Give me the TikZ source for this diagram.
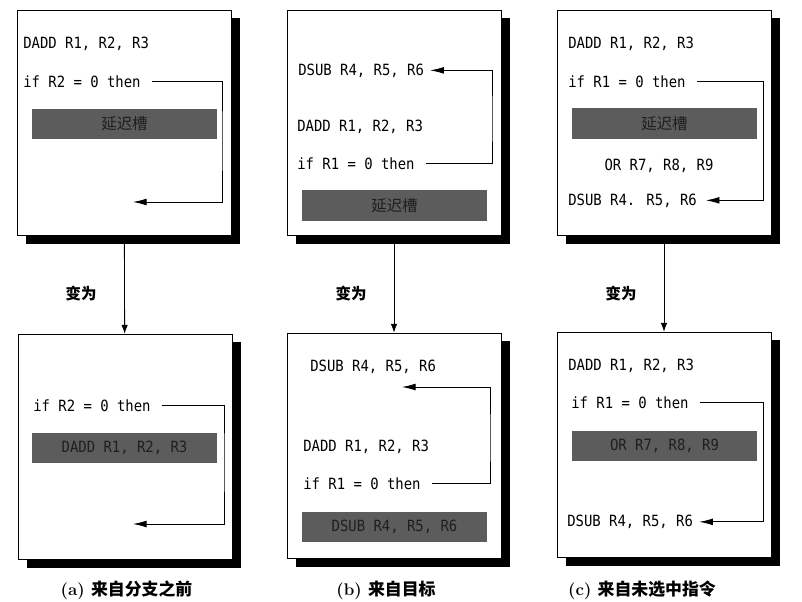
\documentclass[tikz,border=0pt]{standalone}
\usepackage{fontspec}
\usepackage{tikz}
\usetikzlibrary{arrows.meta, shadows}
\newfontfamily\codefont[FakeStretch=0.9]{DejaVu Sans Mono}
\newfontfamily\cjk{Noto Sans CJK SC}

\begin{document}
\begin{tikzpicture}[
			x=0.025cm, y=-0.025cm,
			every node/.style={inner sep=0pt},
			panel/.style={
				rectangle, draw, line width=0.6pt, fill=white,
				minimum width=5.35cm, minimum height=5.64cm,
				drop shadow={shadow xshift=0.23cm, shadow yshift=-0.2cm, fill=black, opacity=1}
			},
			code/.style={
				font=\codefont\fontsize{11}{13}\selectfont, anchor=base west
			},
			slot/.style={
				rectangle, fill=black!64, text=black!88,
				minimum width=4.625cm, minimum height=0.76cm,
				font=\codefont\fontsize{11}{13}\selectfont
			},
			branch/.style={
				-{Latex[length=3.4mm,width=1.7mm]},
				line width=0.6pt, shorten <=0.28cm
			},
			become/.style={
				-{Latex[length=2.2mm,width=1.6mm]},
				line width=0.6pt
			},
			changelbl/.style={font=\cjk\bfseries\fontsize{11}{13}\selectfont},
			caption/.style={font=\bfseries\fontsize{12}{14}\selectfont}
			]
			
			\fill[white] (0,0) rectangle (802,601);
			\useasboundingbox (0,0) rectangle (802,601);
			
			\node[panel] (boxTa) at (124,123) {};
			\node[panel] (boxTb) at (394,123) {};
			\node[panel] (boxTc) at (664,123) {};
			\node[panel] (boxBa) at (125,447) {};
			\node[panel] (boxBb) at (394,446) {};
			\node[panel] (boxBc) at (664,445) {};
			
			% (a) top
			\node[code] (addTa) at (23,48) {DADD R1, R2, R3};
			\node[code] (ifTa) at (23,87) {if R2 = 0 then};
			\node[slot] (slotTa) at (124.5,124) {\cjk 延迟槽};
			\coordinate (railTa) at (222,140);
			\coordinate (landTa) at (133,202);
			\draw[branch] (ifTa.east) -| (railTa) |- (landTa);
			
			% (b) top
			\node[code] (subTb) at (298,75) {DSUB R4, R5, R6};
			\node[code] (addTb) at (297,131) {DADD R1, R2, R3};
			\node[code] (ifTb) at (297,169) {if R1 = 0 then};
			\node[slot] (slotTb) at (394.5,205.5) {\cjk 延迟槽};
			\coordinate (railTb) at (492,120);
			\draw[branch, shorten >=0.15cm] (ifTb.east) -| (railTb) |- (subTb.east);
			
			% (c) top
			\node[code] (addTc) at (568,48) {DADD R1, R2, R3};
			\node[code] (ifTc) at (568,87) {if R1 = 0 then};
			\node[slot] (slotTc) at (664.5,123.5) {\cjk 延迟槽};
			\node[code, anchor=base] (orTc) at (659,170) {OR R7, R8, R9};
			\node[code] (subTc) at (568,205) {DSUB R4. R5, R6};
			\coordinate (railTc) at (763,140);
			\draw[branch, shorten >=0.22cm] (ifTc.east) -| (railTc) |- (subTc.east);
			
			% (a) bottom
			\node[code] (ifBa) at (33,411.5) {if R2 = 0 then};
			\node[slot] (slotBa) at (124.5,448) {DADD R1, R2, R3};
			\coordinate (railBa) at (224,460);
			\coordinate (landBa) at (133,524);
			\draw[branch] (ifBa.east) -| (railBa) |- (landBa);
			
			% (b) bottom
			\node[code] (subBb) at (310,371.5) {DSUB R4, R5, R6};
			\node[code] (addBb) at (303,451.5) {DADD R1, R2, R3};
			\node[code] (ifBb) at (303,489) {if R1 = 0 then};
			\node[slot] (slotBb) at (394.5,527) {DSUB R4, R5, R6};
			\coordinate (railBb) at (490,440);
			\coordinate (landBb) at (402,387);
			\draw[branch] (ifBb.east) -| (railBb) |- (landBb);
			
			% (c) bottom
			\node[code] (addBc) at (568,370) {DADD R1, R2, R3};
			\node[code] (ifBc) at (571,408) {if R1 = 0 then};
			\node[slot] (slotBc) at (664.5,446) {OR R7, R8, R9};
			\node[code] (subBc) at (567,526.5) {DSUB R4, R5, R6};
			\coordinate (railBc) at (763,460);
			\draw[branch, shorten >=0.15cm] (ifBc.east) -| (railBc) |- (subBc.east);
			
			\draw[become] (boxTa) -- (boxBa);
			\draw[become] (boxTb) -- (boxBb);
			\draw[become] (boxTc) -- (boxBc);
			\node[changelbl] (chgA) at (81,294) {变为};
			\node[changelbl] (chgB) at (351,294) {变为};
			\node[changelbl] (chgC) at (621,294) {变为};
			
			\node[caption] (capA) at (126.5,590) {(a) \cjk 来自分支之前};
			\node[caption] (capB) at (386,590) {(b) \cjk 来自目标};
			\node[caption] (capC) at (642,590) {(c) \cjk 来自未选中指令};
			
		\end{tikzpicture}
\end{document}
